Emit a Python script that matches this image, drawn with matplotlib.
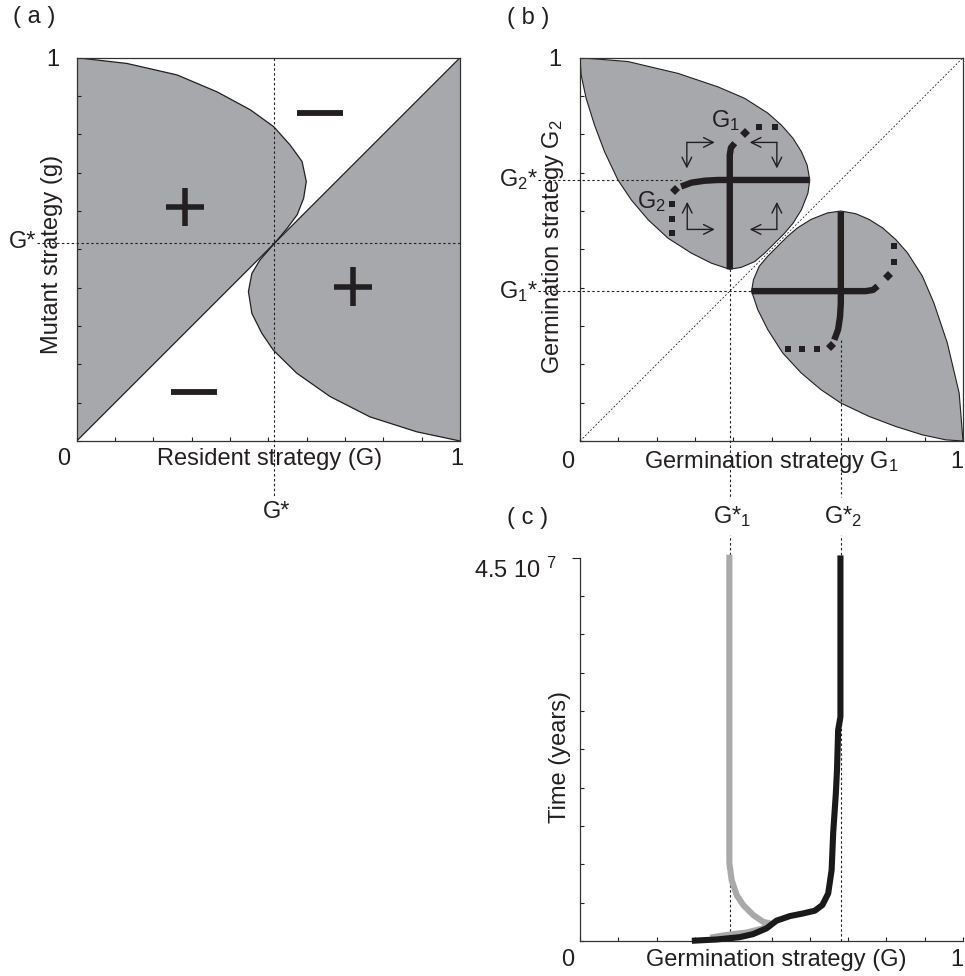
import matplotlib

matplotlib.use('Agg')
import matplotlib.pyplot as plt
import numpy as np

plt.rcParams['font.family'] = ['Liberation Sans', 'DejaVu Sans']
plt.rcParams['mathtext.fontset'] = 'custom'
plt.rcParams['mathtext.rm'] = 'Liberation Sans'
plt.rcParams['mathtext.it'] = 'Liberation Sans:italic'
plt.rcParams['mathtext.default'] = 'regular'

INK = '#231f20'
GREY_FILL = '#a7a8ab'
FS = 17

# ---- panel (a): pairwise invasibility plot ----
g_star = 0.516
# boundary from (0,1) down to the singular point
curve1_x = [0, 0.131, 0.262, 0.366, 0.453, 0.514, 0.557, 0.588, 0.599, 0.592, 0.575, 0.549, 0.523, 0.516]
curve1_y = [1, 0.985, 0.955, 0.911, 0.864, 0.82, 0.772, 0.729, 0.677, 0.633, 0.59, 0.555, 0.524, 0.516]
# boundary from the singular point down to (1,0)
curve2_x = [0.516, 0.478, 0.457, 0.448, 0.457, 0.483, 0.513, 0.574, 0.661, 0.765, 0.887, 1.0]
curve2_y = [0.516, 0.472, 0.437, 0.39, 0.333, 0.281, 0.237, 0.177, 0.116, 0.063, 0.024, 0.0]
plus_pos = [(0.283, 0.611), (0.72, 0.403)]
minus_pos = [(0.634, 0.857), (0.305, 0.129)]

# ---- panel (b): two-strategy invasion region (upper leaf, lower is its mirror) ----
g1_star, g2_star = 0.391, 0.681
leaf_x = [0, 0.125, 0.256, 0.36, 0.43, 0.491, 0.526, 0.556, 0.578, 0.593, 0.6, 0.595, 0.578, 0.556,
          0.534, 0.508, 0.482, 0.456, 0.421, 0.391, 0.343, 0.291, 0.23, 0.178, 0.134, 0.099, 0.064,
          0.038, 0.016, 0.003, 0]
leaf_y = [1, 0.99, 0.959, 0.924, 0.894, 0.855, 0.824, 0.79, 0.755, 0.72, 0.681, 0.646, 0.603, 0.568,
          0.542, 0.516, 0.49, 0.468, 0.453, 0.448, 0.464, 0.49, 0.529, 0.577, 0.629, 0.681, 0.755,
          0.824, 0.894, 0.955, 1]
path_g2_x = [0.264, 0.291, 0.325, 0.36, 0.598]
path_g2_y = [0.664, 0.674, 0.679, 0.681, 0.681]
path_g1_x = [0.391, 0.391, 0.394, 0.404]
path_g1_y = [0.448, 0.746, 0.765, 0.777]
dots_g2_x = [0.24, 0.24, 0.24]
dots_g2_y = [0.618, 0.579, 0.542]
diam_g2 = (0.249, 0.655)
dots_g1_x = [0.467, 0.508]
dots_g1_y = [0.819, 0.819]
diam_g1 = (0.43, 0.803)
# elbow arrows: (corner, end1, end2)
elbows = [
    ((0.279, 0.779), (0.352, 0.779), (0.279, 0.711)),
    ((0.514, 0.779), (0.443, 0.779), (0.514, 0.711)),
    ((0.280, 0.552), (0.280, 0.624), (0.352, 0.552)),
    ((0.514, 0.552), (0.514, 0.624), (0.443, 0.552)),
]

# ---- panel (c): simulated evolution (time in units of 1e7 years) ----
t_max = 4.5
grey_x = [0.348, 0.365, 0.40, 0.435, 0.478, 0.496, 0.478, 0.452, 0.426, 0.409, 0.396, 0.39, 0.39]
grey_frac = [0.01, 0.013, 0.018, 0.022, 0.033, 0.046, 0.05, 0.068, 0.094, 0.12, 0.159, 0.203, 1.0]
black_x = [0.30, 0.357, 0.417, 0.452, 0.487, 0.513, 0.548, 0.583, 0.613, 0.633, 0.648, 0.657, 0.661,
           0.668, 0.671, 0.674, 0.68, 0.68]
black_frac = [0.001, 0.004, 0.01, 0.018, 0.033, 0.053, 0.065, 0.072, 0.079, 0.094, 0.124, 0.185,
              0.281, 0.385, 0.446, 0.55, 0.585, 0.998]

W, H = 965, 976
fig = plt.figure(figsize=(W / 100, H / 100), dpi=100)


def px_axes(left, top, w, h):
    return fig.add_axes([left / W, 1 - (top + h) / H, w / W, h / H])


def style_box(ax, box=True):
    ax.set_xlim(0, 1)
    ax.set_xticks(np.arange(0, 1.01, 0.1))
    ax.tick_params(direction='in', length=3, width=0.8, color=INK,
                   labelbottom=False, labelleft=False, top=False, right=False)
    for s in ax.spines.values():
        s.set_linewidth(0.9)
        s.set_color('#333333')
    if not box:
        ax.spines['top'].set_visible(False)
        ax.spines['right'].set_visible(False)


def dashed(ax, xs, ys, lw=0.8):
    ax.plot(xs, ys, color=INK, lw=lw, ls=(0, (2.2, 2.2)), clip_on=False, zorder=3)


def txt(ax, x, y, s, **kw):
    kw.setdefault('ha', 'center')
    kw.setdefault('va', 'center')
    ax.text(x, y, s, fontsize=kw.pop('fs', FS), color=INK, transform=ax.transAxes, clip_on=False, **kw)


# ================= (a) =================
ax = px_axes(76.7, 57.7, 383.3, 383.3)
style_box(ax)
ax.set_ylim(0, 1)
ax.set_yticks(np.arange(0, 1.01, 0.1))
left_x = [0, g_star] + curve1_x[::-1] + [0]
left_y = [0, g_star] + curve1_y[::-1] + [0]
ax.fill(left_x, left_y, color=GREY_FILL, lw=0, zorder=1)
right_x = [g_star, 1, 1] + curve2_x[::-1]
right_y = [g_star, 1, 0] + curve2_y[::-1]
ax.fill(right_x, right_y, color=GREY_FILL, lw=0, zorder=1)
ax.plot(curve1_x, curve1_y, color=INK, lw=0.9, zorder=2)
ax.plot(curve2_x, curve2_y, color=INK, lw=0.9, zorder=2)
ax.plot([0, 1], [0, 1], color=INK, lw=0.9, zorder=2)
dashed(ax, [g_star, g_star], [1, -0.149])
dashed(ax, [-0.104, 1], [g_star, g_star])
for (px, py) in plus_pos:
    ax.plot([px - 0.05, px + 0.05], [py, py], color=INK, lw=4.0, solid_capstyle='butt', zorder=4)
    ax.plot([px, px], [py - 0.05, py + 0.05], color=INK, lw=4.0, solid_capstyle='butt', zorder=4)
for (px, py) in minus_pos:
    ax.plot([px - 0.06, px + 0.06], [py, py], color=INK, lw=4.2, solid_capstyle='butt', zorder=4)
txt(ax, -0.033, -0.047, '0')
txt(ax, 0.991, -0.047, '1')
txt(ax, -0.062, 0.994, '1')
txt(ax, 0.504, -0.047, 'Resident strategy (G)')
txt(ax, -0.065, 0.488, 'Mutant strategy (g)', rotation=90)
txt(ax, -0.105, g_star + 0.004, 'G*', ha='right')
txt(ax, g_star + 0.006, -0.185, 'G*')
fig.text(13 / W, 1 - 17 / H, '( a )', fontsize=FS, color=INK, ha='left', va='center')

# ================= (b) =================
ax = px_axes(580, 57.7, 383, 383.3)
style_box(ax)
ax.set_ylim(0, 1)
ax.set_yticks(np.arange(0, 1.01, 0.1))
for lx, ly in [(leaf_x, leaf_y), (leaf_y, leaf_x)]:
    ax.fill(lx, ly, facecolor=GREY_FILL, edgecolor=INK, lw=0.8, zorder=1)
dashed(ax, [0, 1], [0, 1], lw=0.6)
dashed(ax, [-0.11, path_g2_x[0]], [g2_star, g2_star])
dashed(ax, [-0.11, leaf_y[19]], [g1_star, g1_star])
dashed(ax, [g1_star, g1_star], [leaf_y[19], -0.146])
dashed(ax, [g2_star, g2_star], [path_g2_x[0], -0.146])

for swap in (False, True):
    def P(xs, ys):
        return (ys, xs) if swap else (xs, ys)
    for xs, ys in [(path_g2_x, path_g2_y), (path_g1_x, path_g1_y)]:
        a, b = P(xs, ys)
        ax.plot(a, b, color=INK, lw=4.6, solid_capstyle='butt', zorder=5)
    for xs, ys in [(dots_g2_x, dots_g2_y), (dots_g1_x, dots_g1_y)]:
        a, b = P(xs, ys)
        ax.plot(a, b, 's', color=INK, ms=4.8, mew=0, zorder=5)
    for d in (diam_g2, diam_g1):
        a, b = P([d[0]], [d[1]])
        ax.plot(a, b, 'D', color=INK, ms=5.0, mew=0, zorder=5)

for corner, e1, e2 in elbows:
    for e in (e1, e2):
        ax.annotate('', xy=e, xytext=corner, xycoords='data', textcoords='data',
                    arrowprops=dict(arrowstyle='->,head_length=0.7,head_width=0.35', lw=1.0,
                                    color=INK, shrinkA=0, shrinkB=0), zorder=6)

txt(ax, 0.38, 0.836, 'G$_1$')
txt(ax, 0.187, 0.626, 'G$_2$')
txt(ax, -0.031, -0.054, '0')
txt(ax, 0.983, -0.054, '1')
txt(ax, -0.065, 0.994, '1')
txt(ax, 0.5, -0.054, 'Germination strategy G$_1$')
txt(ax, -0.07, 0.507, 'Germination strategy G$_2$', rotation=90)
txt(ax, -0.108, g2_star, 'G$_2$*', ha='right')
txt(ax, -0.108, g1_star, 'G$_1$*', ha='right')
fig.text(507 / W, 1 - 18 / H, '( b )', fontsize=FS, color=INK, ha='left', va='center')

# ================= (c) =================
ax = px_axes(580, 557.7, 383, 383.3)
style_box(ax, box=False)
ax.set_ylim(0, t_max)
ax.set_yticks([t_max])
ax.set_yticks(np.arange(0, t_max + 0.01, t_max / 10), minor=True)
ax.tick_params(axis='y', which='major', direction='out', length=6, width=0.8, labelleft=False)
ax.tick_params(axis='y', which='minor', direction='in', length=3, width=0.8, color=INK)
dashed(ax, [g1_star, g1_star], [0, 1.059 * t_max])
dashed(ax, [g2_star, g2_star], [0, 1.059 * t_max])
ax.plot(grey_x, np.array(grey_frac) * t_max, color='#a9a9a9', lw=4.4, zorder=4, clip_on=False)
ax.plot(black_x, np.array(black_frac) * t_max, color='#1a1a1a', lw=4.4, zorder=5, clip_on=False)
txt(ax, -0.031, -0.05, '0')
txt(ax, 0.985, -0.05, '1')
txt(ax, 0.513, -0.05, 'Germination strategy (G)')
txt(ax, -0.052, 0.481, 'Time (years)', rotation=90)
txt(ax, -0.06, 0.968, '4.5 10 $^{7}$', ha='right')
txt(ax, g1_star + 0.005, 1.107, 'G*$_1$')
txt(ax, g2_star + 0.005, 1.107, 'G*$_2$')
fig.text(507 / W, 1 - 518 / H, '( c )', fontsize=FS, color=INK, ha='left', va='center')

fig.savefig('out.png', dpi=100)
